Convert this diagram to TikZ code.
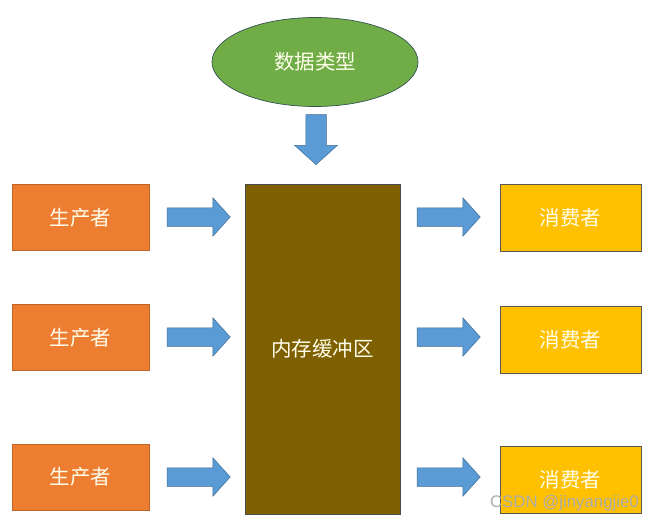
\documentclass[tikz,border=0pt]{standalone}
\usepackage{fontspec}
\setmainfont{Liberation Sans}
\newfontfamily\cjk{Noto Sans CJK SC}
\usetikzlibrary{shapes.geometric,shapes.arrows}
\definecolor{porange}{HTML}{ED7D31}
\definecolor{cyellow}{HTML}{FFC000}
\definecolor{egreen}{HTML}{70AD47}
\definecolor{ablue}{HTML}{5B9BD5}
\definecolor{bbrown}{HTML}{7F6000}
\tikzset{
  lbl/.style={text=white!92!yellow,font=\cjk\fontsize{20.5}{24}\selectfont},
  prodbox/.style={lbl,fill=porange,draw=porange!80!black,line width=0.6pt,minimum width=137pt,minimum height=66pt,inner sep=0pt},
  consbox/.style={lbl,fill=cyellow,draw=gray!70!black,line width=0.8pt,minimum width=141pt,minimum height=67pt,inner sep=0pt},
  rarrow/.style={single arrow,fill=ablue,draw=ablue!70!black,line width=0.5pt,minimum height=63pt,inner xsep=0pt,inner ysep=9pt,single arrow head extend=10pt,single arrow tip angle=96}
}
\begin{document}
\begin{tikzpicture}[x=1pt,y=-1pt]
\useasboundingbox (0,0) rectangle (653,525);
\fill[white] (0,0) rectangle (653,525);
% ellipse
\node[ellipse,lbl,fill=egreen,draw=egreen!60!black!80!blue,line width=0.7pt,minimum width=206pt,minimum height=89pt,inner sep=0pt] (dt) at (315,62) {数据类型};
% buffer
\node[lbl,fill=bbrown,draw=gray!60!black,line width=0.8pt,minimum width=155pt,minimum height=330pt,inner sep=0pt] (buf) at (322.5,349) {内存缓冲区};
% down arrow
\coordinate (dn) at (316,135);
\node[single arrow,shape border rotate=270,fill=ablue,draw=ablue!70!black,line width=0.5pt,minimum height=50pt,inner xsep=10pt,inner ysep=0pt,single arrow head extend=11pt,single arrow tip angle=96] (da) at (dn) {};
% producers
\node[prodbox] (p1) at (80.5,217.5) {生产者};
\node[prodbox] (p2) at (80.5,337.5) {生产者};
\node[prodbox] (p3) at (80.5,477) {生产者};
% consumers
\node[consbox] (c1) at (570.5,218) {消费者};
\node[consbox] (c2) at (570.5,339.5) {消费者};
\node[consbox] (c3) at (570.5,479.5) {消费者};
% arrows
\node[rarrow] (a1) at (194.5,217) {};
\node[rarrow] (a2) at (194.5,337) {};
\node[rarrow] (a3) at (194.5,477) {};
\node[rarrow] (b1) at (444.5,217) {};
\node[rarrow] (b2) at (444.5,337) {};
\node[rarrow] (b3) at (444.5,477) {};
% watermark
\node[anchor=east,text=gray!65,font=\fontsize{16.8}{19}\selectfont,inner sep=0pt] (wm) at (639,503) {CSDN @jinyangjie0};
\end{tikzpicture}
\end{document}
